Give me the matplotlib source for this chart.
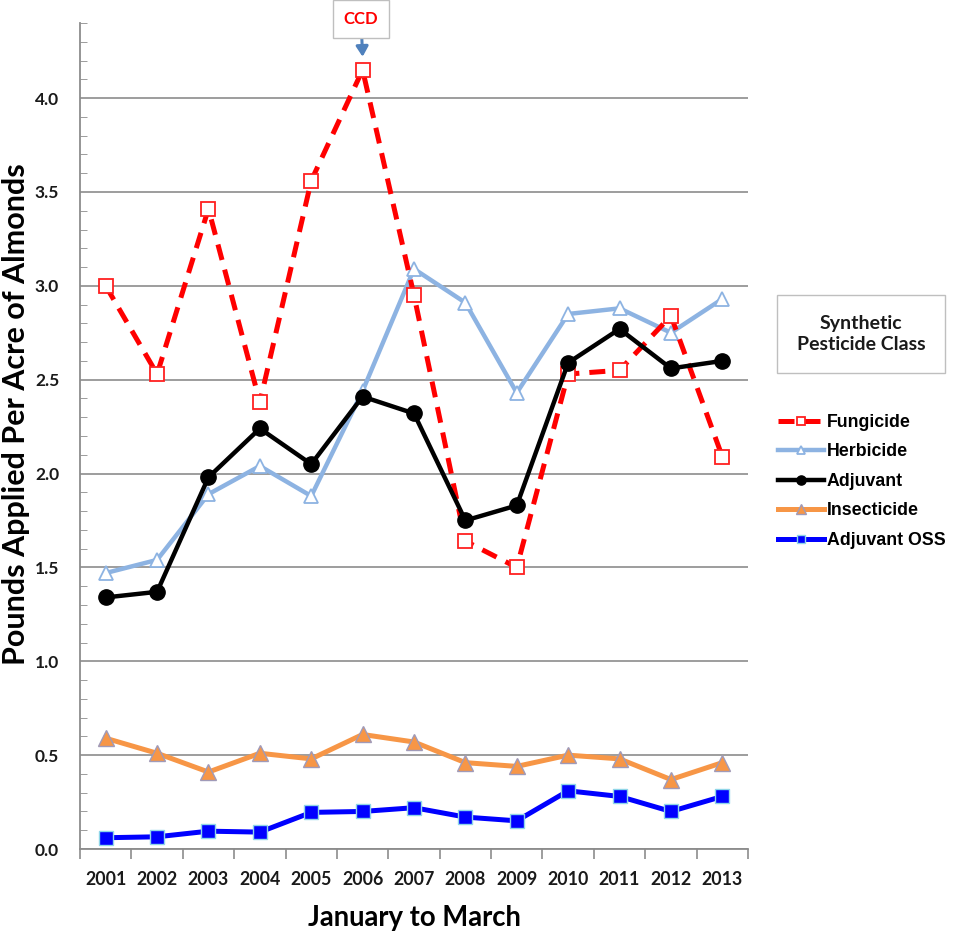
import matplotlib.pyplot as plt
import numpy as np

years = ['2001', '2002', '2003', '2004', '2005', '2006', '2007',
         '2008', '2009', '2010', '2011', '2012', '2013']

fungicide = [3.00, 2.53, 3.41, 2.38, 3.56, 4.15, 2.95, 1.64, 1.50, 2.53, 2.55, 2.84, 2.09]
herbicide = [1.47, 1.54, 1.89, 2.04, 1.88, 2.44, 3.09, 2.91, 2.43, 2.85, 2.88, 2.75, 2.93]
adjuvant = [1.34, 1.37, 1.98, 2.24, 2.05, 2.41, 2.32, 1.75, 1.83, 2.59, 2.77, 2.56, 2.60]
insecticide = [0.59, 0.51, 0.41, 0.51, 0.48, 0.61, 0.57, 0.46, 0.44, 0.50, 0.48, 0.37, 0.46]
adjuvant_oss = [0.06, 0.065, 0.095, 0.09, 0.195, 0.20, 0.22, 0.17, 0.15, 0.31, 0.28, 0.20, 0.28]

x = np.arange(1, len(years) + 1)
tickfont = 'Lato'

fig = plt.figure(figsize=(9.65, 9.32), dpi=100)
ax = fig.add_axes([80/965, 83/932, 668/965, 826/932])

# linee
ax.plot(x, fungicide, color='#ff0000', lw=3.6, ls=(0, (3.2, 2.0)), marker='s', ms=10,
        mfc='white', mec='#ff2020', mew=1.3, label='Fungicide', zorder=3)
ax.plot(x, herbicide, color='#8db3e2', lw=3.2, marker='^', ms=10,
        mfc='white', mec='#8db3e2', mew=1.3, label='Herbicide', zorder=2)
ax.plot(x, adjuvant, color='black', lw=3.2, marker='o', ms=11,
        mfc='black', mec='black', label='Adjuvant', zorder=4)
ax.plot(x, insecticide, color='#f79646', lw=3.6, marker='^', ms=11,
        mfc='#f79646', mec='#a09ab8', mew=1.0, label='Insecticide', zorder=3)
ax.plot(x, adjuvant_oss, color='#0000ff', lw=3.6, marker='s', ms=10,
        mfc='#0000ff', mec='#8fd6e8', mew=1.0, label='Adjuvant OSS', zorder=3)

ax.set_xlim(0.5, 13.5)
ax.set_ylim(0, 4.4)

# assi stile excel
for s in ['top', 'right']:
    ax.spines[s].set_visible(False)
for s in ['left', 'bottom']:
    ax.spines[s].set_color('#8c8c8c')
    ax.spines[s].set_linewidth(1.3)

ax.set_yticks(np.arange(0, 4.01, 0.5))
ax.set_yticks(np.arange(0, 4.41, 0.1), minor=True)
ax.yaxis.set_major_formatter(plt.FormatStrFormatter('%.1f'))
ax.tick_params(axis='y', which='major', length=0, pad=15, labelsize=12.5)
ax.tick_params(axis='y', which='minor', direction='in', length=5, color='#8c8c8c')
ax.grid(axis='y', which='major', color='#8c8c8c', lw=1.2)
ax.set_axisbelow(True)

ax.set_xticks(np.arange(0.5, 13.6, 1.0))
ax.set_xticklabels([])
ax.set_xticks(x, minor=True)
ax.set_xticklabels(years, minor=True)
ax.tick_params(axis='x', which='major', direction='out', length=7, color='#8c8c8c', width=1.2)
ax.tick_params(axis='x', which='minor', length=0, pad=16, labelsize=12.8)

for lab in ax.get_yticklabels() + ax.get_xticklabels(minor=True):
    lab.set_fontfamily(tickfont)
    lab.set_fontweight('bold')
    lab.set_color('#1a1a1a')

fig.text(16/965, 1 - 414/932, 'Pounds Applied Per Acre of Almonds', rotation=90,
         ha='center', va='center', fontsize=22, fontweight='bold', family=tickfont)
ax.set_xlabel('January to March', fontsize=19.8, fontweight='bold', family=tickfont, labelpad=12)

# CCD
ax.annotate('CCD', xy=(6, 4.22), xytext=(361/965, 1 - 19/932), textcoords='figure fraction',
            ha='center', va='center', color='#ff0000', fontsize=12, fontweight='bold',
            family=tickfont, annotation_clip=False,
            bbox=dict(boxstyle='square,pad=0.65', fc='white', ec='#bfbfbf', lw=1),
            arrowprops=dict(arrowstyle='-|>,head_length=0.5,head_width=0.3', color='#4f81bd',
                            lw=2.2, shrinkA=0, shrinkB=0))

# legenda
fig.text(861/965, 1 - 334/932, 'Synthetic\nPesticide Class', ha='center', va='center',
         fontsize=14, fontweight='bold', family=tickfont, color='#1a1a1a', linespacing=1.3,
         bbox=dict(boxstyle='square,pad=1.0', fc='white', ec='#bfbfbf', lw=1))
leg = fig.legend(loc='upper left', bbox_to_anchor=(762/965, 1 - 398/932), frameon=False,
                 handlelength=2.6, handletextpad=0.15, labelspacing=0.7, markerscale=0.6,
                 prop={'family': 'Liberation Sans', 'weight': 'bold', 'size': 12.8})

fig.savefig('out.png', dpi=100, facecolor='white')
